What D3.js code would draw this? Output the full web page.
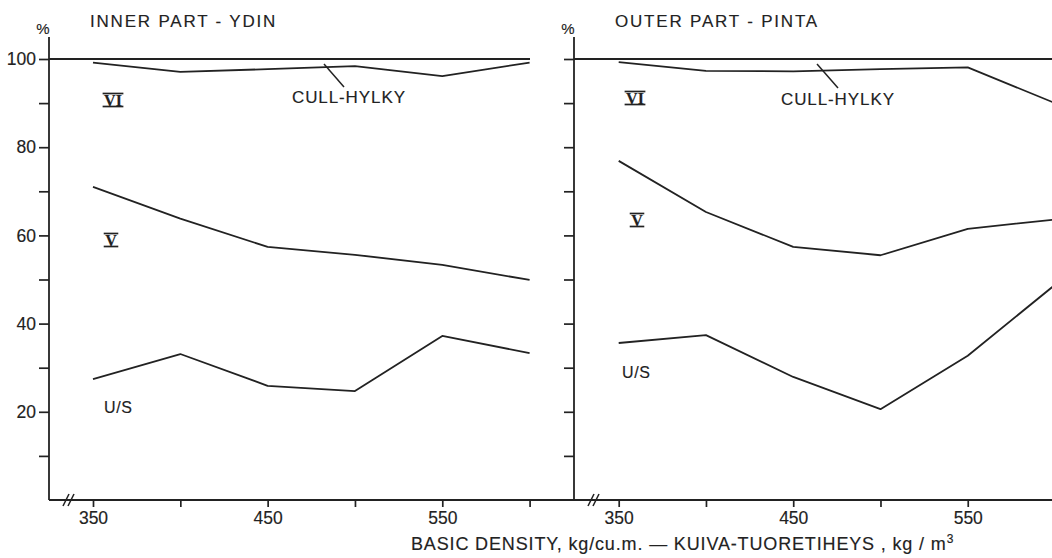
<!DOCTYPE html>
<html>
<head>
<meta charset="utf-8">
<script src="https://cdn.jsdelivr.net/npm/d3@7"></script>
<style>
  html, body { margin: 0; padding: 0; background: #fff; }
  svg text { font-family: "Liberation Sans", Arial, sans-serif; fill: #222; stroke: #222; stroke-width: 0.15px; }
</style>
</head>
<body>
<svg id="chart" width="1052" height="558"></svg>
<script>
// Basic density classes, kg/m3
const density = [350, 400, 450, 500, 550, 600];

// Cumulative grade shares (%) — inner part (YDIN)
const innerCull = [99.2, 97.1, 97.7, 98.4, 96.1, 99.2];
const innerV    = [71.0, 63.8, 57.4, 55.6, 53.3, 49.9];
const innerUS   = [27.4, 33.1, 25.9, 24.7, 37.2, 33.3];

// Cumulative grade shares (%) — outer part (PINTA)
const outerCull = [99.3, 97.3, 97.2, 97.7, 98.1, 90.0];
const outerV    = [76.9, 65.3, 57.4, 55.5, 61.5, 63.6];
const outerUS   = [35.6, 37.4, 27.9, 20.6, 32.7, 48.8];

const yTicks = [10, 20, 30, 40, 50, 60, 70, 80, 90, 100];
const yLabels = [20, 40, 60, 80, 100];
const xTicks = [350, 400, 450, 500, 550, 600];
const xLabels = [350, 450, 550];

const panelTitles = ["INNER PART - YDIN", "OUTER PART - PINTA"];
const cullLabel = "CULL-HYLKY";

const ink = "#222";
const svg = d3.select("#chart");

const y = d3.scaleLinear().domain([0, 100]).range([500, 59]);

const panels = [
  { title: panelTitles[0], axisX: 49, x: d3.scaleLinear().domain([350, 600]).range([93, 529.6]),
    lineEnd: 530, series: [innerCull, innerV, innerUS],
    vi: [113, 100], v: [111, 240], us: [104, 413], cull: [292, 103], leader: [[324, 64], [344, 87]] },
  { title: panelTitles[1], axisX: 574, x: d3.scaleLinear().domain([350, 600]).range([618.7, 1055]),
    lineEnd: 1052, series: [outerCull, outerV, outerUS],
    vi: [635, 98], v: [637, 220], us: [622, 378], cull: [781, 105], leader: [[817, 64], [838, 88]] }
];

// Continuous base line under both panels
svg.append("line").attr("x1", 49).attr("x2", 1052).attr("y1", 500).attr("y2", 500)
  .attr("stroke", ink).attr("stroke-width", 1.8);

panels.forEach(p => {
  const g = svg.append("g");

  // Vertical axis with ticks, labelled every 20 %
  const yAxis = d3.axisLeft(y).tickValues(yTicks).tickSize(10).tickPadding(3)
    .tickFormat(d => yLabels.includes(d) ? d : "");
  const ya = g.append("g").attr("transform", `translate(${p.axisX},0)`).call(yAxis);
  ya.select(".domain").remove();
  ya.selectAll("line").attr("stroke", ink).attr("stroke-width", 1.7);
  ya.selectAll("text").style("font-size", "17.5px").attr("fill", ink)
    .attr("font-family", "Liberation Sans, Arial, sans-serif");
  if (p.axisX > 100) ya.selectAll("text").remove();
  g.append("line").attr("x1", p.axisX).attr("x2", p.axisX).attr("y1", 37).attr("y2", 500)
    .attr("stroke", ink).attr("stroke-width", 1.8);

  // Horizontal axis ticks and labels
  const xAxis = d3.axisBottom(p.x).tickValues(xTicks).tickSize(7).tickPadding(5)
    .tickFormat(d => xLabels.includes(d) ? d : "");
  const xa = g.append("g").attr("transform", "translate(0,500)").call(xAxis);
  xa.select(".domain").remove();
  xa.selectAll("line").attr("stroke", ink).attr("stroke-width", 1.7);
  xa.selectAll("text").style("font-size", "17.5px").attr("fill", ink)
    .attr("font-family", "Liberation Sans, Arial, sans-serif");

  // Axis break marks "//"
  const bx = p.axisX + 17;
  [0, 5].forEach(o => {
    g.append("line").attr("x1", bx + o - 3).attr("y1", 506).attr("x2", bx + o + 3).attr("y2", 494)
      .attr("stroke", ink).attr("stroke-width", 1.6);
  });

  // 100 % line
  g.append("line").attr("x1", p.axisX).attr("x2", p.lineEnd).attr("y1", y(100)).attr("y2", y(100))
    .attr("stroke", ink).attr("stroke-width", 1.8);

  // Grade boundary curves
  const line = d3.line().x((d, i) => p.x(density[i])).y(d => y(d));
  const clipId = "clip" + p.axisX;
  svg.append("clipPath").attr("id", clipId).append("rect")
    .attr("x", p.axisX).attr("y", 0).attr("width", 1052 - p.axisX).attr("height", 558);
  p.series.forEach(s => {
    g.append("path").datum(s).attr("d", line).attr("fill", "none")
      .attr("stroke", ink).attr("stroke-width", 1.8).attr("stroke-linejoin", "round")
      .attr("clip-path", `url(#${clipId})`);
  });

  // Titles and percent sign
  g.append("text").attr("x", p.axisX + 41).attr("y", 27).text(p.title)
    .style("font-size", "17px").style("letter-spacing", "1.8px");
  g.append("text").attr("x", p.axisX - 6).attr("y", 34).attr("text-anchor", "middle")
    .text("%").style("font-size", "15px");

  // Roman grade labels with bars
  function roman(txt, cx, cy) {
    const t = g.append("text").attr("x", cx).attr("y", cy + 5.5).attr("text-anchor", "middle")
      .text(txt).style("font-family", "Liberation Serif, serif").style("font-weight", "bold")
      .style("font-size", "16px");
    const w = t.node().getComputedTextLength() + 3;
    [cy - 6.5, cy + 6.5].forEach(yy => {
      g.append("line").attr("x1", cx - w / 2).attr("x2", cx + w / 2).attr("y1", yy).attr("y2", yy)
        .attr("stroke", ink).attr("stroke-width", 1.7);
    });
  }
  roman("VI", p.vi[0], p.vi[1]);
  roman("V", p.v[0], p.v[1]);

  g.append("text").attr("x", p.us[0]).attr("y", p.us[1]).text("U/S")
    .style("font-size", "16px").style("letter-spacing", "0.6px");
  g.append("text").attr("x", p.cull[0]).attr("y", p.cull[1]).text(cullLabel)
    .style("font-size", "17px").style("letter-spacing", "0.9px");
  g.append("line").attr("x1", p.leader[0][0]).attr("y1", p.leader[0][1])
    .attr("x2", p.leader[1][0]).attr("y2", p.leader[1][1])
    .attr("stroke", ink).attr("stroke-width", 1.5);
});

// Shared horizontal axis title
const xt = svg.append("text").attr("x", 411).attr("y", 550).style("font-size", "18px")
  .style("letter-spacing", "0.85px");
xt.append("tspan").text("BASIC DENSITY, kg/cu.m. \u2014 KUIVA-TUORETIHEYS , kg / m");
xt.append("tspan").attr("dy", -7).style("font-size", "12px").text("3");
</script>
</body>
</html>
